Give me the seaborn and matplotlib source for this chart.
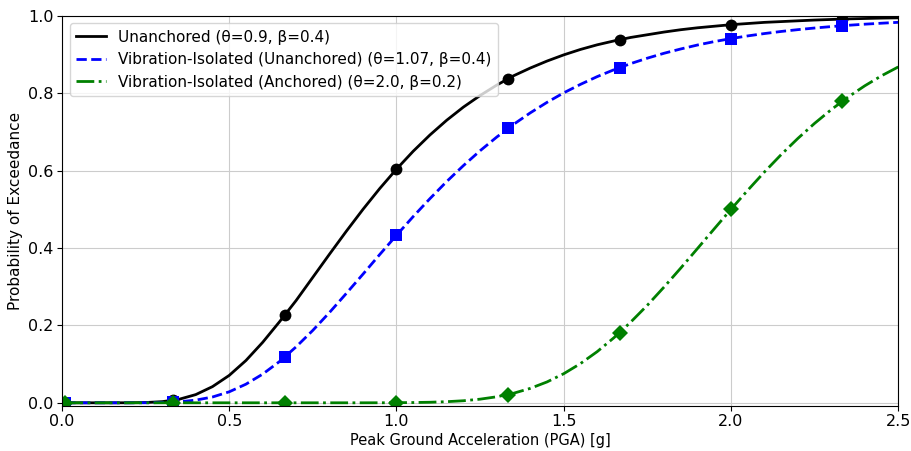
import numpy as np
import pandas as pd
import matplotlib
matplotlib.use("Agg")
import matplotlib.pyplot as plt
import seaborn as sns

# Curve samples (PGA in g, probability of exceedance)
pga = [0.01, 0.05, 0.10, 0.15, 0.20, 0.25, 0.30, 0.35, 0.40, 0.45, 0.50,
       0.55, 0.60, 0.65, 0.70, 0.75, 0.80, 0.85, 0.90, 0.95, 1.00,
       1.05, 1.10, 1.15, 1.20, 1.25, 1.30, 1.35, 1.40, 1.45, 1.50,
       1.55, 1.60, 1.65, 1.70, 1.75, 1.80, 1.85, 1.90, 1.95, 2.00,
       2.05, 2.10, 2.15, 2.20, 2.25, 2.30, 2.35, 2.40, 2.45, 2.50]

unanchored = [0.0, 0.0, 0.0, 0.0, 0.0001, 0.0007, 0.0030, 0.0091, 0.0212, 0.0418, 0.0708,
              0.1093, 0.1562, 0.2090, 0.2643, 0.3243, 0.3843, 0.4432, 0.5000, 0.5537, 0.6037,
              0.650, 0.692, 0.730, 0.764, 0.794, 0.821, 0.845, 0.865, 0.883, 0.899,
              0.913, 0.925, 0.935, 0.944, 0.951, 0.958, 0.964, 0.969, 0.973, 0.977,
              0.980, 0.983, 0.985, 0.987, 0.989, 0.9905, 0.992, 0.993, 0.994, 0.9947]

iso_unanchored = [0.0, 0.0, 0.0, 0.0, 0.0, 0.0001, 0.0007, 0.0026, 0.0069, 0.0150, 0.0284,
                  0.0481, 0.0741, 0.1064, 0.1446, 0.1872, 0.2336, 0.2826, 0.3325, 0.3832, 0.4328,
                  0.4812, 0.5275, 0.5716, 0.6128, 0.6513, 0.6868, 0.7194, 0.7492, 0.7763, 0.8009,
                  0.8228, 0.8428, 0.8605, 0.8764, 0.8905, 0.9032, 0.9143, 0.9245, 0.9333, 0.9411,
                  0.9480, 0.9541, 0.9595, 0.9642, 0.9684, 0.9721, 0.9754, 0.9783, 0.9808, 0.9831]

iso_anchored = [0.0, 0.0, 0.0, 0.0, 0.0, 0.0, 0.0, 0.0, 0.0, 0.0, 0.0,
                0.0, 0.0, 0.0, 0.0, 0.0, 0.0, 0.0, 0.0, 0.0001, 0.0003,
                0.0007, 0.0014, 0.0029, 0.0053, 0.0094, 0.0156, 0.0247, 0.0373, 0.0539, 0.0752,
                0.1013, 0.1322, 0.1681, 0.2083, 0.2521, 0.2992, 0.3483, 0.3988, 0.4496, 0.5000,
                0.5491, 0.5964, 0.6413, 0.6832, 0.7221, 0.7577, 0.7900, 0.8191, 0.8450, 0.8678]

# Marked points
pga_marks = [0.01, 0.333, 0.667, 1.0, 1.333, 1.667, 2.0, 2.333]
unanchored_marks = [0.0, 0.007, 0.227, 0.604, 0.837, 0.938, 0.977, 0.991]
iso_unanchored_marks = [0.0, 0.002, 0.118, 0.433, 0.709, 0.866, 0.941, 0.974]
iso_anchored_marks = [0.0, 0.0, 0.0, 0.0003, 0.021, 0.181, 0.500, 0.780]

labels = ["Unanchored (θ=0.9, β=0.4)",
          "Vibration-Isolated (Unanchored) (θ=1.07, β=0.4)",
          "Vibration-Isolated (Anchored) (θ=2.0, β=0.2)"]

curves = [unanchored, iso_unanchored, iso_anchored]
marks = [unanchored_marks, iso_unanchored_marks, iso_anchored_marks]
colors = ["black", "blue", "green"]
styles = ["-", "--", "-."]
markers = ["o", "s", "D"]

fig, ax = plt.subplots(figsize=(9.11, 4.51), dpi=100)

for y, ym, lab, c, ls, mk in zip(curves, marks, labels, colors, styles, markers):
    sns.lineplot(x=pga, y=y, ax=ax, color=c, linestyle=ls, linewidth=2,
                 label=lab, estimator=None, sort=False)
    sns.lineplot(x=pga_marks, y=ym, ax=ax, color=c, linestyle="none", marker=mk,
                 markersize=8.5, markeredgewidth=0, estimator=None, sort=False)

ax.set_xlim(0, 2.5)
ax.set_ylim(-0.008, 1.0)
ax.set_xlabel("Peak Ground Acceleration (PGA) [g]", fontsize=10.5, labelpad=3)
ax.set_ylabel("Probability of Exceedance", fontsize=11)
ax.tick_params(labelsize=11.5, pad=2.5)
ax.grid(True, color="#cccccc", linewidth=0.8)
ax.legend(loc="upper left", fontsize=11)

plt.subplots_adjust(left=0.068, right=0.986, top=0.965, bottom=0.1)
plt.savefig("out.png", dpi=100)
